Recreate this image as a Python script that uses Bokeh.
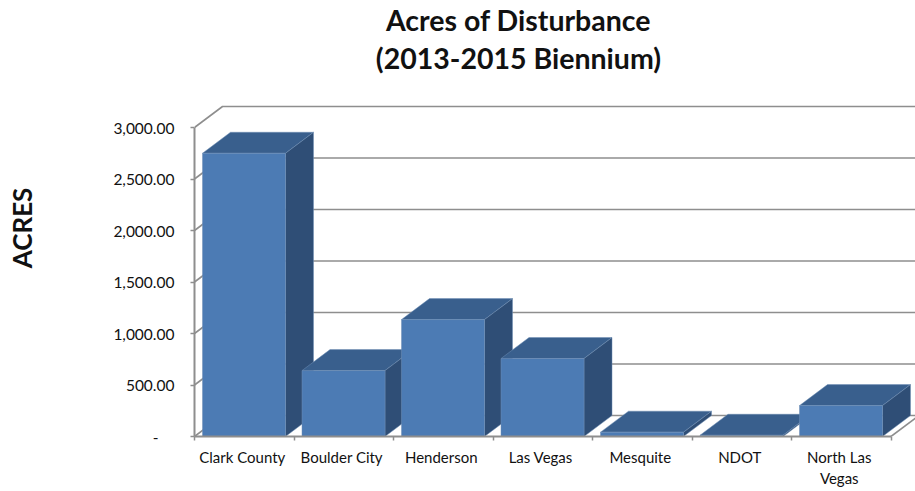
from bokeh.plotting import figure
from bokeh.models import FixedTicker, Label, ColumnDataSource
from bokeh.embed import file_html
from bokeh.resources import INLINE

categories = ["Clark County", "Boulder City", "Henderson", "Las Vegas", "Mesquite", "NDOT", "North Las\nVegas"]
acres = [2750, 640, 1135, 757, 42, 12, 300]
y_ticks = [0, 500, 1000, 1500, 2000, 2500, 3000]
y_tick_labels = ["-\u00a0\u00a0\u00a0\u00a0", "500.00", "1,000.00", "1,500.00", "2,000.00", "2,500.00", "3,000.00"]

# pixel scale of the chart
PX_X = 99.5      # px per category
PX_Y = 0.103     # px per acre
W, H = 915, 491
LEFT, BOTTOM = 194, 55
DX = 28 / PX_X   # 3D depth
DY = 21 / PX_Y
GAP = 8 / PX_X
BW = 83 / PX_X
FRONT, TOP, SIDE = "#4C7BB4", "#395F8D", "#2F4E76"
GREY = "#8E8E8E"
TXT = "#111111"
FONT = "Lato"

fw, fh = W - LEFT, H - BOTTOM
n = len(categories)
p = figure(width=W, height=H, output_backend="svg", toolbar_location=None,
           x_range=(0, fw / PX_X), y_range=(0, fh / PX_Y),
           min_border_left=LEFT, min_border_right=0, min_border_top=0, min_border_bottom=BOTTOM,
           outline_line_color=None, background_fill_color=None, border_fill_color=None)
p.grid.visible = False

# walls: gridlines on back wall + diagonals on side wall
xend = fw / PX_X
for t in y_ticks:
    p.line([0, DX, xend], [t, t + DY, t + DY], line_color=GREY, line_width=1.6)
# floor
p.line([n, n + DX], [0, DY], line_color=GREY, line_width=1.6)

# bars
xs, ys, cols = [], [], []
for i, v in enumerate(acres):
    x0, x1 = i + GAP, i + GAP + BW
    xs += [[x0, x0 + DX, x1 + DX, x1], [x1, x1 + DX, x1 + DX, x1], [x0, x1, x1, x0]]
    ys += [[v, v + DY, v + DY, v], [v, v + DY, DY, 0], [0, 0, v, v]]
    cols += [TOP, SIDE, FRONT]
p.patches("xs", "ys", fill_color="cols", line_color="#6F8FB5", line_width=0.5,
          source=ColumnDataSource(dict(xs=xs, ys=ys, cols=cols)))

# axes
ax = p.xaxis[0]
ax.ticker = FixedTicker(ticks=[i + 0.48 for i in range(n)], minor_ticks=list(range(n + 1)))
ax.major_label_overrides = {i + 0.48: c for i, c in enumerate(categories)}
ax.major_tick_out = 0
ax.major_tick_in = 0
ax.minor_tick_out = 4
ax.minor_tick_in = 0
ax.minor_tick_line_color = GREY
ax.minor_tick_line_width = 1.5
ax.axis_line_color = GREY
ax.axis_line_width = 2
ax.bounds = (0, n)
ax.major_label_text_font = FONT
ax.major_label_text_font_size = "15px"
ax.major_label_text_color = TXT
ax.major_label_standoff = 7

ay = p.yaxis[0]
ay.ticker = FixedTicker(ticks=y_ticks)
ay.major_label_overrides = dict(zip(y_ticks, y_tick_labels))
ay.minor_tick_line_color = None
ay.major_tick_out = 4
ay.major_tick_in = 0
ay.major_tick_line_color = GREY
ay.major_tick_line_width = 1.5
ay.axis_line_color = GREY
ay.axis_line_width = 2
ay.bounds = (0, 3000)
ay.major_label_text_font = FONT
ay.major_label_text_font_size = "15.5px"
ay.major_label_text_color = TXT
ay.major_label_standoff = 16
ay.axis_label = "ACRES\u00a0\u00a0\u00a0"
ay.axis_label_text_font = FONT
ay.axis_label_text_font_style = "bold"
ay.axis_label_text_font_size = "26px"
ay.axis_label_text_color = TXT
ay.axis_label_standoff = 72

# title
for txt, py in (("Acres of Disturbance", 19), ("(2013-2015 Biennium)", 57)):
    p.add_layout(Label(x=(518 - 194) / PX_X, y=(436 - py) / PX_Y, text=txt, text_align="center",
                       text_baseline="middle", text_font=FONT, text_font_style="bold",
                       text_font_size="28.5px", text_color=TXT))

open("out.html", "w").write(file_html(p, INLINE))
